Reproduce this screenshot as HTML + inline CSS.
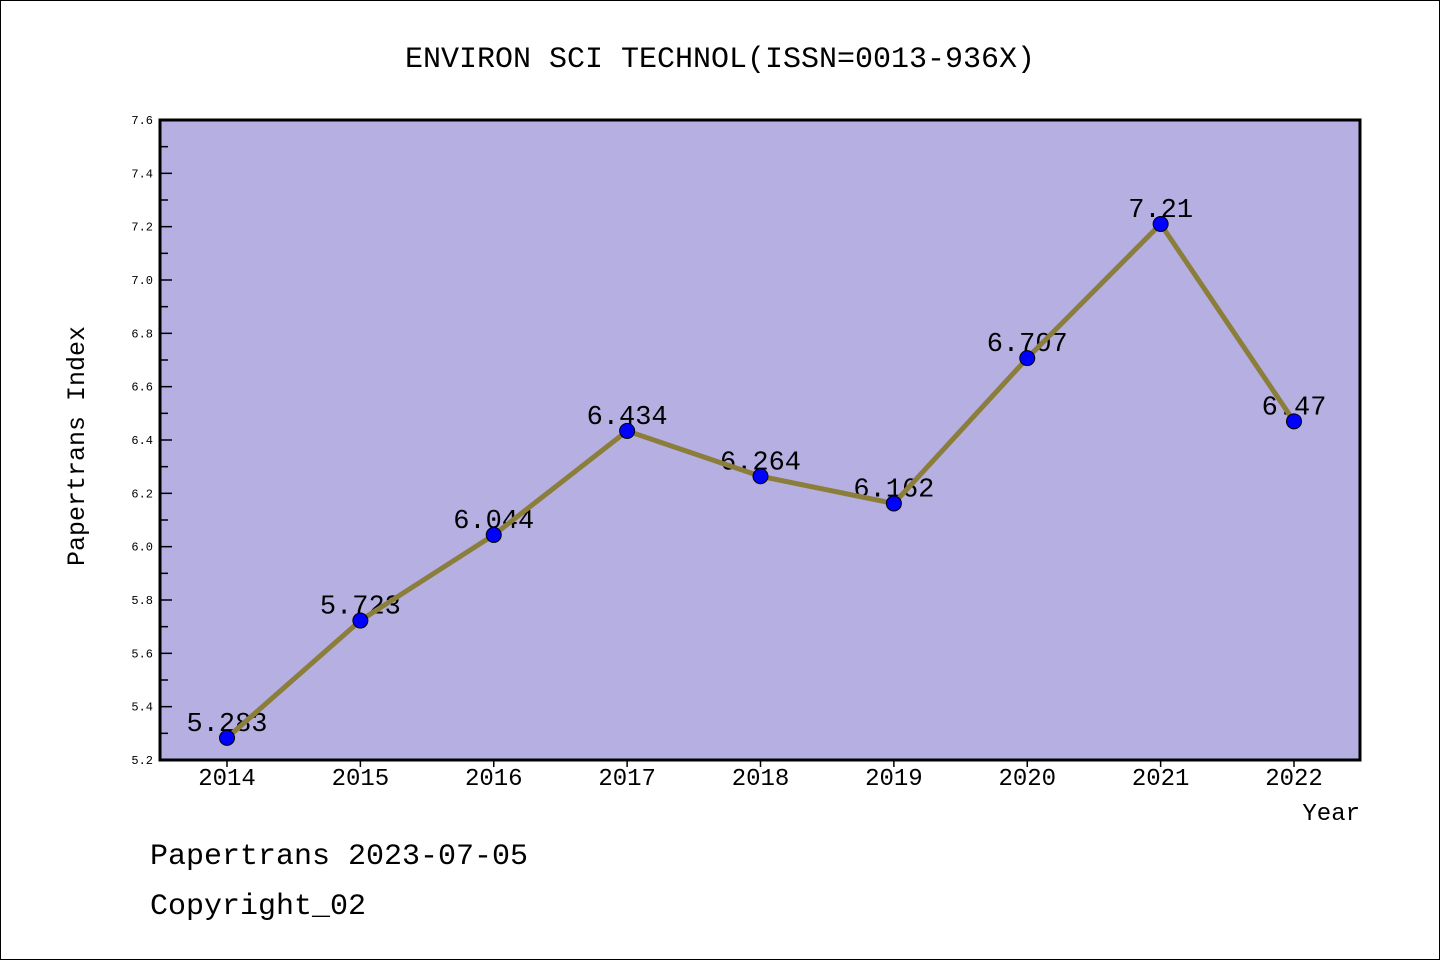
<!DOCTYPE html>
<html><head><meta charset="utf-8"><style>
body{margin:0;background:#fff}
svg{display:block}
text{font-family:"Liberation Mono","Noto Sans CJK SC",monospace;fill:#000}
</style></head><body>
<svg width="1440" height="960">
<rect x="0.5" y="0.5" width="1439" height="959" fill="#fff" stroke="#000"/>
<text x="720" y="67" font-size="30" text-anchor="middle">ENVIRON SCI TECHNOL(ISSN=0013-936X)</text>
<rect x="160" y="120" width="1200" height="640" fill="#b5afe2"/>
<g id="yaxis"></g>
<g id="xaxis"></g>
<g id="labels"></g>
<g id="series"></g>
<rect x="160" y="120" width="1200" height="640" fill="none" stroke="#000" stroke-width="3"/>
<text transform="translate(84,446) rotate(-90)" font-size="25" text-anchor="middle">Papertrans Index</text>
<text x="1360" y="820" font-size="24" text-anchor="end">Year</text>
<text x="150" y="864" font-size="30">Papertrans 2023-07-05</text>
<text x="150" y="914" font-size="30">Copyright_02</text>
</svg>
<script>
const years=[2014,2015,2016,2017,2018,2019,2020,2021,2022];
const values=[5.283,5.723,6.044,6.434,6.264,6.162,6.707,7.21,6.47];
const valueLabels=["5.283","5.723","6.044","6.434","6.264","6.162","6.707","7.21","6.47"];
const yTicks=[5.2,5.4,5.6,5.8,6.0,6.2,6.4,6.6,6.8,7.0,7.2,7.4,7.6];
const NS="http://www.w3.org/2000/svg";
function y(v){return 760-(v-5.2)/2.4*640;}
function x(i){return 227+i*(1294-227)/(years.length-1);}
function mk(t,a,p){const e=document.createElementNS(NS,t);for(const k in a)e.setAttribute(k,a[k]);p.appendChild(e);return e;}
const ya=document.getElementById('yaxis');
yTicks.forEach((v,i)=>{
 const l=mk('line',{x1:160,x2:172,y1:y(v),y2:y(v),stroke:'#000','stroke-width':1.5},ya);
 
 
 const t=mk('text',{x:153,y:y(v)+4,'font-size':12,'text-anchor':'end'},ya);t.textContent=v.toFixed(1);
 
 
 if(i<yTicks.length-1){const m=mk('line',{x1:160,x2:168,y1:y(v+0.1),y2:y(v+0.1),stroke:'#000','stroke-width':1.5},ya);
 
 }
});
const xa=document.getElementById('xaxis');
years.forEach((yr,i)=>{
 const l=mk('line',{x1:x(i),x2:x(i),y1:761,y2:767,stroke:'#000','stroke-width':1.5},xa);
 
 
 const t=mk('text',{x:x(i),y:785,'font-size':24,'text-anchor':'middle'},xa);t.textContent=yr;
 
 
});
const lb=document.getElementById('labels');
values.forEach((v,i)=>{
 const t=mk('text',{x:x(i),y:y(v)-7,'font-size':27,'text-anchor':'middle'},lb);t.textContent=valueLabels[i];
 
 
});
const sg=document.getElementById('series');
const pl=mk('polyline',{points:values.map((v,i)=>x(i)+','+y(v)).join(' '),fill:'none',stroke:'#8b7d3a','stroke-width':5,'stroke-linejoin':'round'},sg);


values.forEach((v,i)=>{
 const c=mk('circle',{cx:x(i),cy:y(v),r:7.5,fill:'#0000ff',stroke:'#000','stroke-width':1},sg);
 
 
});
</script>
</body></html>
